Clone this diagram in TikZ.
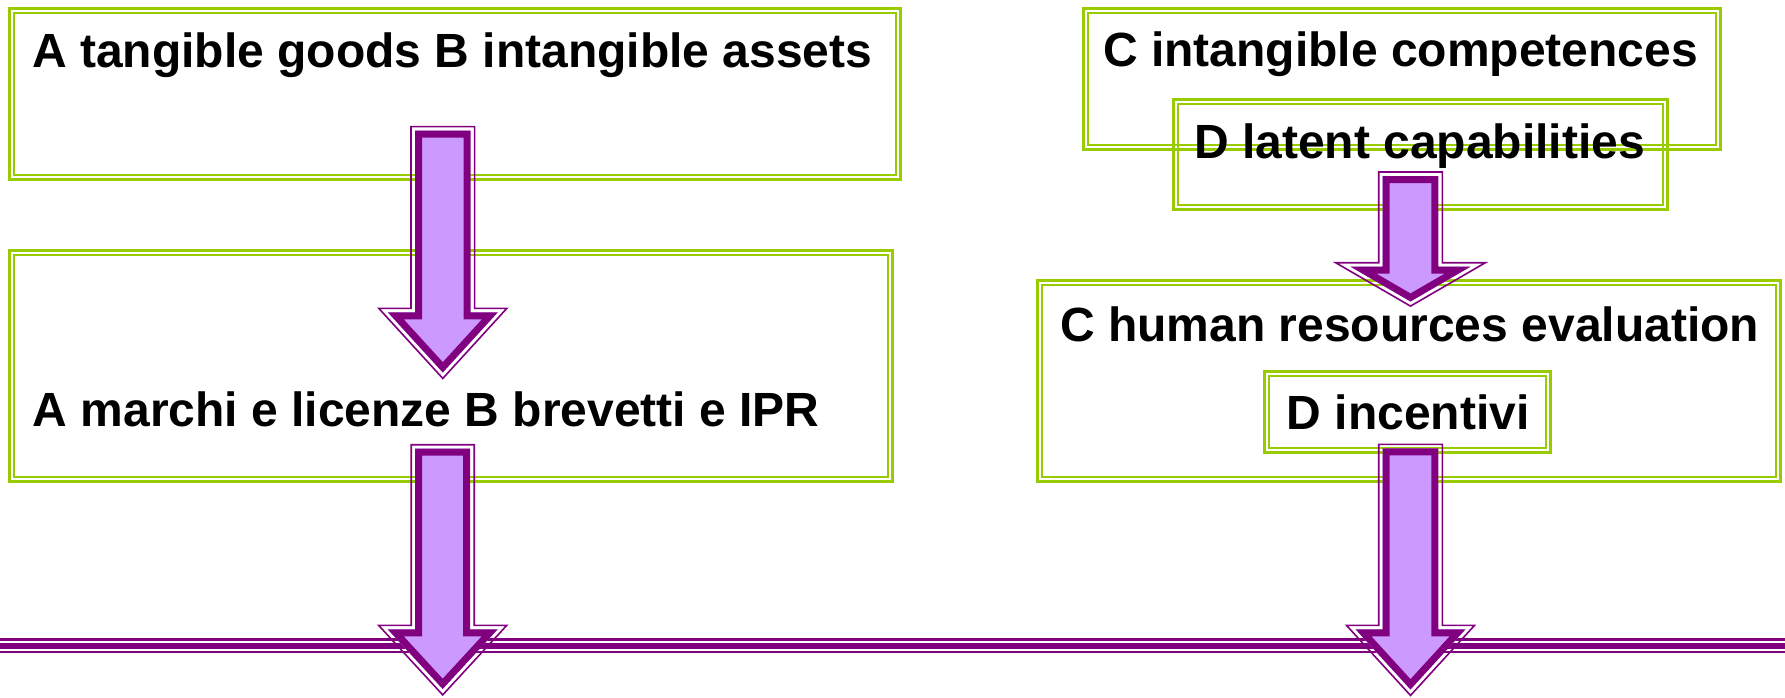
\documentclass[tikz,border=0pt]{standalone}
\usepackage{fontspec}
\setmainfont{Liberation Sans}
\definecolor{lgreen}{HTML}{99CC00}
\definecolor{dpurple}{HTML}{800080}
\definecolor{lilac}{HTML}{CC99FF}
\tikzset{
  gbox/.style={draw=lgreen, line width=2.7pt, rectangle, inner sep=0pt, outer sep=0pt, anchor=north west},
  gin/.style={draw=lgreen, line width=2.7pt},
  lbl/.style={anchor=base west, inner sep=0pt, font=\fontsize{48}{58}\selectfont\bfseries},
  thinedge/.style={draw=dpurple, line width=1.6pt, line join=miter},
  thickedge/.style={draw=dpurple, line width=14pt, line join=miter},
}
% box: name, x, y (top-left of outer line centre), width, height
\newcommand{\gboxat}[5]{%
  \node[gbox, minimum width=#4pt, minimum height=#5pt] (#1) at (#2,#3) {};
  \draw[gin] ([shift={(4.6,4.6)}]#1.north west) rectangle ([shift={(-4.6,-4.6)}]#1.south east);
}
% block arrow: cx, top y, shoulder y, tip y, shaft half width, head half width, offset
\newcommand{\blockarr}[7]{%
  \pgfmathsetmacro{\ah}{#4-#3}%
  \pgfmathsetmacro{\aL}{sqrt((#6)^2+(\ah)^2)}%
  \pgfmathsetmacro{\bo}{#6+#7*(\aL+#6)/\ah}%
  \pgfmathsetmacro{\po}{#4+#7*\aL/#6}%
  \draw[thinedge] ({#1-#5-#7},{#2-#7}) -- ({#1+#5+#7},{#2-#7}) -- ({#1+#5+#7},{#3-#7})
     -- ({#1+\bo},{#3-#7}) -- ({#1},{\po}) -- ({#1-\bo},{#3-#7}) -- ({#1-#5-#7},{#3-#7}) -- cycle;
  \begin{scope}
    \clip ({#1-#5},{#2}) -- ({#1+#5},{#2}) -- ({#1+#5},{#3}) -- ({#1+#6},{#3}) -- ({#1},{#4})
       -- ({#1-#6},{#3}) -- ({#1-#5},{#3}) -- cycle;
    \draw[thickedge, fill=lilac] ({#1-#5},{#2}) -- ({#1+#5},{#2}) -- ({#1+#5},{#3}) -- ({#1+#6},{#3}) -- ({#1},{#4})
       -- ({#1-#6},{#3}) -- ({#1-#5},{#3}) -- cycle;
  \end{scope}
}
\begin{document}
\begin{tikzpicture}[x=1pt, y=-1pt]
\useasboundingbox (0,0) rectangle (1785,698);
\fill[white] (0,0) rectangle (1785,698);

% bottom triple line
\coordinate (hl) at (0,645.8);
\coordinate (hr) at (1785,645.8);
\draw[dpurple, line width=15pt] (hl) -- (hr);
\draw[white, line width=10pt] (hl) -- (hr);
\draw[dpurple, line width=5.5pt] (hl) -- (hr);

% boxes
\gboxat{b1}{9.35}{8.35}{891.3}{171.3}
\gboxat{b2}{9.35}{250.35}{883.3}{231.3}
\gboxat{b3}{1083.35}{8.35}{637.3}{141.3}
\gboxat{b4}{1173.35}{99.35}{494.3}{110.3}
\gboxat{b5}{1037.35}{280.35}{743.3}{201.3}
\gboxat{b6}{1264.35}{371.35}{286.3}{81.3}

% arrows
\blockarr{442.8}{130.7}{312.3}{372.5}{27.8}{55}{4}
\blockarr{442.7}{448.7}{629.3}{689}{27.5}{55}{4}
\blockarr{1410.5}{176}{266.7}{301.5}{27.8}{60}{4}
\blockarr{1410.5}{448.3}{629.3}{689.5}{27.8}{55}{4}

% labels
\node[lbl] (t1) at (32,67.7) {A tangible goods B intangible assets};
\node[lbl] (t2) at (32.5,426) {A marchi e licenze B brevetti e IPR};
\node[lbl] (t3) at (1103,67) {C intangible competences};
\node[lbl] (t4) at (1194,158) {D latent capabilities};
\node[lbl] (t5) at (1060,341) {C human resources evaluation};
\node[lbl] (t6) at (1286.5,429) {D incentivi};
\end{tikzpicture}
\end{document}
